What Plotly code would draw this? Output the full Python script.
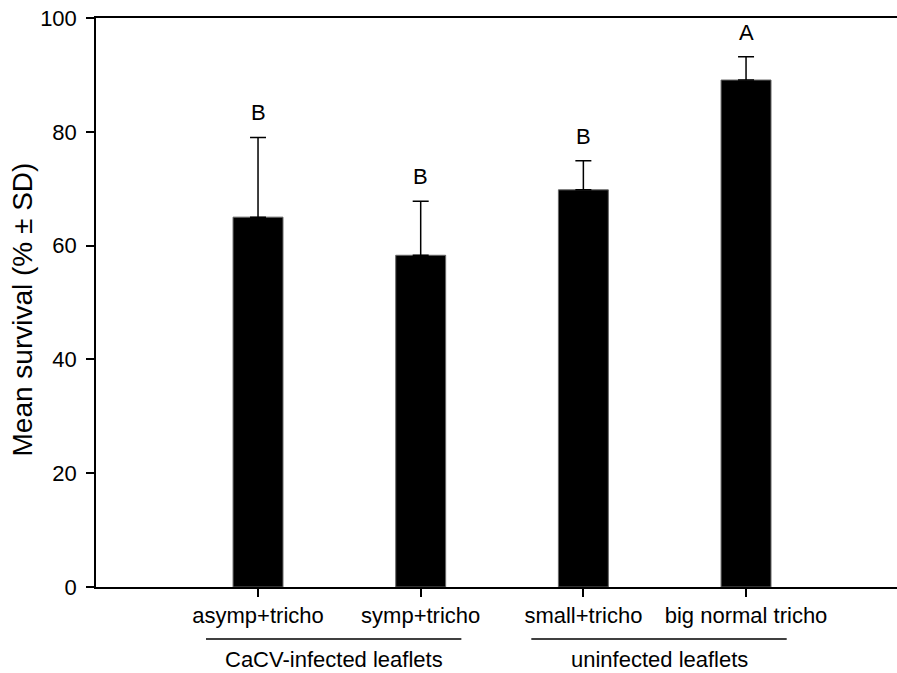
import plotly.graph_objects as go

categories = ["asymp+tricho", "symp+tricho", "small+tricho", "big normal tricho"]
mean_survival = [65.0, 58.3, 69.8, 89.1]
sd_survival = [14.0, 9.5, 5.1, 4.1]
letters = ["B", "B", "B", "A"]
groups = [("CaCV-infected leaflets", [0, 1]), ("uninfected leaflets", [2, 3])]
y_ticks = [0, 20, 40, 60, 80, 100]
y_title = "Mean survival (% ± SD)"

FONT = "Arial, Liberation Sans, sans-serif"
xs = list(range(len(categories)))

fig = go.Figure()
fig.add_trace(go.Bar(
    x=xs, y=mean_survival, width=0.307,
    marker=dict(color="black", line=dict(color="#666666", width=1)),
    error_y=dict(type="data", array=sd_survival, arrayminus=[0] * len(sd_survival),
                 symmetric=False, color="black", thickness=1.5, width=8),
    showlegend=False,
))

for i, (m, s, l) in enumerate(zip(mean_survival, sd_survival, letters)):
    fig.add_annotation(x=i, y=m + s, text=l, showarrow=False, yanchor="bottom",
                       yshift=10, font=dict(family=FONT, size=22, color="black"))

for name, members in groups:
    x0 = members[0] - 0.32
    x1 = members[-1] + 0.25
    fig.add_shape(type="line", xref="x", yref="paper", x0=x0, x1=x1,
                  y0=-52 / 569, y1=-52 / 569, line=dict(color="black", width=1.3))
    fig.add_annotation(x=(x0 + x1) / 2, xref="x", y=0, yref="paper", yshift=-72,
                       text=name, showarrow=False, yanchor="middle",
                       font=dict(family=FONT, size=22, color="black"))

fig.add_annotation(x=0, xref="paper", xshift=-74, y=0.5, yref="paper", yshift=-7,
                   text=y_title, textangle=-90, showarrow=False,
                   xanchor="center", yanchor="middle",
                   font=dict(family=FONT, size=28, color="black"))

fig.update_layout(
    width=897, height=673,
    margin=dict(l=96, r=0, t=18, b=86),
    plot_bgcolor="white", paper_bgcolor="white",
    font=dict(family=FONT, size=22, color="black"),
    xaxis=dict(range=[-0.996, 3.928], tickvals=xs, ticktext=categories,
               showline=True, linecolor="black", linewidth=1.5, mirror=True,
               ticks="outside", ticklen=8, tickwidth=1.5, tickcolor="black",
               showgrid=False, zeroline=False,
               tickfont=dict(family=FONT, size=22)),
    yaxis=dict(range=[0, 100], tickvals=y_ticks,
               showline=True, linecolor="black", linewidth=1.5,
               ticks="outside", ticklen=8, tickwidth=1.5, tickcolor="black",
               ticklabelstandoff=5,
               showgrid=False, zeroline=False,
               tickfont=dict(family=FONT, size=22)),
)

fig.write_html("out.html")
